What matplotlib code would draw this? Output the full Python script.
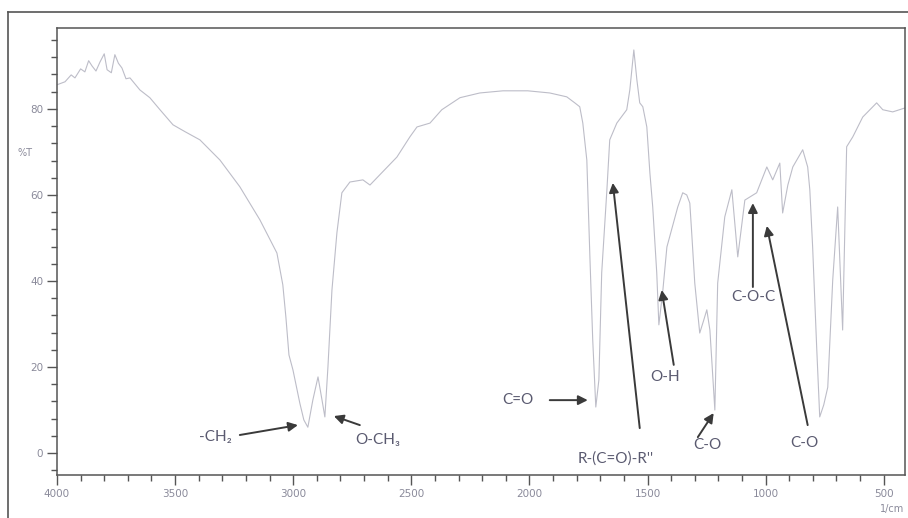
import matplotlib
matplotlib.use('Agg')
import matplotlib.pyplot as plt
from matplotlib.lines import Line2D
from matplotlib.ticker import MultipleLocator
import numpy as np

# FTIR spectrum: wavenumber (1/cm) and transmittance (%T)
wavenumber = [4000, 3966, 3940, 3924, 3900, 3882, 3866, 3852, 3835, 3818,
              3800, 3788, 3770, 3755, 3740, 3725, 3708, 3691, 3670,
              3649, 3607, 3564, 3509, 3458, 3395, 3310, 3226, 3141, 3069,
              3044, 3031, 3018, 3001, 2972, 2955, 2938, 2917, 2895, 2878,
              2866, 2853, 2836, 2815, 2794, 2760, 2705, 2675, 2633, 2561,
              2506, 2476, 2421, 2371, 2294, 2210, 2112, 2007, 1914, 1842,
              1808, 1787, 1774, 1757, 1753, 1744, 1732, 1719, 1706, 1694,
              1672, 1660, 1630, 1588, 1575, 1558, 1545, 1533, 1520, 1503,
              1490, 1478, 1461, 1452, 1435, 1418, 1372, 1351, 1334, 1321,
              1313, 1300, 1279, 1262, 1249, 1236, 1228, 1215, 1203, 1173,
              1143, 1118, 1088, 1038, 995, 970, 940, 928, 906, 885,
              843, 822, 813, 801, 784, 771, 754, 737, 716, 695,
              674, 657, 631, 589, 530, 504, 462, 411]
transmittance = [85.6, 86.3, 87.9, 87.2, 89.3, 88.6, 91.2, 90.0, 88.8, 90.9,
                 92.8, 89.1, 88.4, 92.6, 90.6, 89.5, 87.0, 87.2, 85.8,
                 84.4, 82.6, 79.8, 76.3, 74.7, 72.8, 68.1, 61.9, 54.2, 46.5,
                 39.1, 31.6, 22.8, 19.3, 11.6, 7.7, 6.0, 12.3, 17.7, 12.3,
                 8.4, 20.0, 37.9, 51.2, 60.5, 63.0, 63.5, 62.3, 64.7, 68.8,
                 73.5, 75.8, 76.7, 79.8, 82.6, 83.7, 84.2, 84.2, 83.7, 82.8,
                 81.4, 80.5, 76.7, 68.1, 61.2, 45.6, 26.3, 10.7, 17.0, 41.9,
                 61.2, 72.8, 76.7, 79.8, 84.4, 93.7, 86.7, 81.4, 80.5, 75.8,
                 65.1, 57.2, 41.9, 29.8, 37.9, 47.9, 57.2, 60.5, 60.0, 58.1,
                 51.2, 39.5, 27.9, 30.9, 33.3, 28.6, 21.6, 10.0, 39.5, 54.9,
                 61.2, 45.6, 58.8, 60.5, 66.5, 63.5, 67.4, 55.8, 62.3, 66.5,
                 70.5, 66.5, 61.2, 47.9, 24.7, 8.4, 11.2, 15.3, 40.2, 57.2,
                 28.6, 71.2, 73.5, 78.1, 81.4, 79.8, 79.3, 80.2]

# band labels: text, text position, arrow tail, arrow head (wavenumber, %T)
labels = ['-CH\u2082', 'O-CH\u2083', 'C=O', "R-(C=O)-R''", 'O-H', 'C-O', 'C-O-C', 'C-O']
label_pos = [(3331, 3.7), (2641, 3.0), (2049, 12.3), (1634, -1.2),
             (1427, 17.7), (1245, 1.9), (1054, 36.3), (834, 2.3)]
arrow_tail = [(3226, 4.2), (2718, 6.5), (1914, 12.3), (1533, 5.8),
              (1389, 20.5), (1287, 3.7), (1054, 38.6), (822, 6.5)]
arrow_head = [(2980, 6.5), (2828, 8.6), (1753, 12.3), (1647, 62.8),
              (1440, 37.9), (1220, 9.3), (1054, 58.1), (995, 52.8)]

axis_col = '#555555'
tick_txt = '#8a8a9a'
ann_col = '#3a3a3a'
txt_col = '#5a5a70'

fig = plt.figure(figsize=(9.08, 5.18), dpi=100)
ax = fig.add_axes([57 / 908, 43 / 518, 848 / 908, 447 / 518])

ax.plot(wavenumber, transmittance, color='#bdbdc8', lw=0.8)

ax.set_xlim(4000, 410)
ax.set_ylim(-5.1, 98.8)

ax.xaxis.set_major_locator(MultipleLocator(500))
ax.xaxis.set_minor_locator(MultipleLocator(100))
ax.yaxis.set_major_locator(MultipleLocator(20))
ax.yaxis.set_minor_locator(MultipleLocator(4))
ax.tick_params(which='major', length=7, width=1.0, color=axis_col,
               labelsize=7.5, labelcolor=tick_txt, pad=3)
ax.tick_params(which='minor', length=4, width=1.0, color=axis_col)
for s in ax.spines.values():
    s.set_color(axis_col)
    s.set_linewidth(1.1)

ax.text(-0.038, 0.72, '%T', transform=ax.transAxes, fontsize=7,
        color=tick_txt, ha='center', va='center')
ax.text(0.985, -0.075, '1/cm', transform=ax.transAxes, fontsize=7,
        color=tick_txt, ha='center', va='center')

for lab, p, t, h in zip(labels, label_pos, arrow_tail, arrow_head):
    ax.text(p[0], p[1], lab, fontsize=11, color=txt_col,
            family=['Lato', 'DejaVu Sans'], ha='center', va='center')
    ax.annotate('', xy=h, xytext=t,
                arrowprops=dict(arrowstyle='-|>', color=ann_col, lw=1.4,
                                mutation_scale=14, shrinkA=0, shrinkB=0))

# outer frame of the scanned page
fig.add_artist(Line2D([8 / 908, 8 / 908], [0, 1 - 12 / 518], color=axis_col, lw=1.2))
fig.add_artist(Line2D([8 / 908, 1], [1 - 12 / 518, 1 - 12 / 518], color=axis_col, lw=1.2))

fig.savefig('out.png', dpi=100)
